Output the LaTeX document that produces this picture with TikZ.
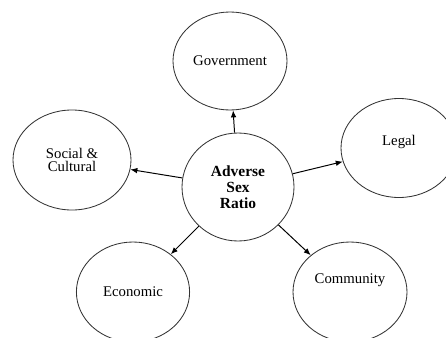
\documentclass[tikz,border=0pt]{standalone}
\usepackage{fontspec}
\setmainfont{Liberation Serif}
\usetikzlibrary{shapes, arrows.meta}

\begin{document}
\begin{tikzpicture}[
  bubble/.style={ellipse, draw=black!80, line width=0.6pt, inner sep=0pt,
    align=center, font=\fontsize{10.5}{9.5}\selectfont},
  link/.style={-{Latex[length=5pt,width=4pt]}, line width=0.7pt}]
\useasboundingbox (0,0) rectangle (11.15,-8.425);

\node[bubble, minimum width=2.8cm, minimum height=2.7cm,
  font=\fontsize{11}{11.5}\selectfont\bfseries] (0) at (5.95,-4.675) {Adverse\\Sex\\Ratio};
\node[bubble, minimum width=2.85cm, minimum height=2.45cm] (1) at (5.75,-1.525) {Government};
\node[bubble, minimum width=2.95cm, minimum height=2.5cm] (2) at (1.8,-4.0) {Social \&\\Cultural};
\node[bubble, minimum width=2.9cm, minimum height=2.475cm,
  label={[yshift=0.15cm, font=\fontsize{10.5}{9.5}\selectfont]center:Legal}] (3) at (9.975,-3.7) {};
\node[bubble, minimum width=2.83cm, minimum height=2.5cm] (4) at (3.325,-7.3) {Economic};
\node[bubble, minimum width=2.85cm, minimum height=2.5cm,
  label={[yshift=0.3cm, font=\fontsize{10.5}{9.5}\selectfont]center:Community}] (5) at (8.75,-7.3) {};

\draw[link] (0) -- (1);
\draw[link] (0) -- (2);
\draw[link] (0) -- (3);
\draw[link] (0) -- (4);
\draw[link] (0) -- (5);
\end{tikzpicture}
\end{document}
